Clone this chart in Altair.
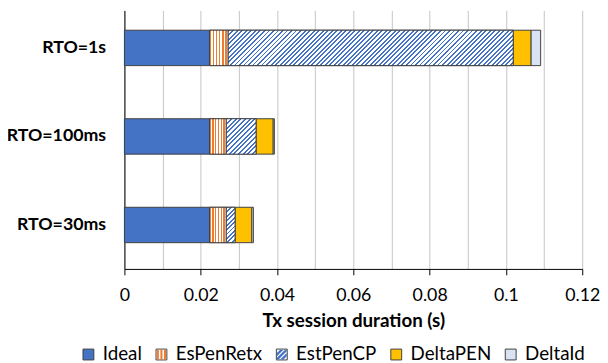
import altair as alt
import pandas as pd

# ---------------- data ----------------
categories = ["RTO=1s", "RTO=100ms", "RTO=30ms"]
series_names = ["Ideal", "EsPenRetx", "EstPenCP", "DeltaPEN", "DeltaId"]
ideal = [0.0223, 0.0223, 0.0223]
es_pen_retx = [0.0049, 0.0044, 0.0044]
est_pen_cp = [0.0747, 0.0078, 0.0023]
delta_pen = [0.0047, 0.0045, 0.0044]
delta_id = [0.0025, 0.0003, 0.0004]
x_ticks = [0, 0.01, 0.02, 0.03, 0.04, 0.05, 0.06, 0.07, 0.08, 0.09, 0.10, 0.11, 0.12]
x_max = 0.12

# ---------------- style ----------------
BLUE = "#4472C4"
ORANGE = "#ED7D31"
YELLOW = "#FFC000"
LIGHT = "#DAE3F3"
WHITE = "#FFFFFF"
EDGE = "#404040"
FONT = "Lato"
solid_colors = {"Ideal": BLUE, "EsPenRetx": WHITE, "EstPenCP": WHITE,
                "DeltaPEN": YELLOW, "DeltaId": LIGHT}
pattern_colors = {"Ideal": "transparent", "EsPenRetx": ORANGE, "EstPenCP": BLUE,
                  "DeltaPEN": "transparent", "DeltaId": "transparent"}
VSTRIPES = ("M-0.85,-0.9H-0.47V0.9H-0.85Z M-0.19,-0.9H0.19V0.9H-0.19Z "
            "M0.47,-0.9H0.85V0.9H0.47Z")
DSTRIPES = ("M-0.3,-0.9L0.3,-0.9L-0.9,0.3L-0.9,-0.3Z "
            "M0.6,-0.9L0.9,-0.9L0.9,-0.6L-0.6,0.9L-0.9,0.9L-0.9,0.6Z "
            "M0.9,-0.3L0.9,0.3L0.3,0.9L-0.3,0.9Z")
pattern_shapes = {"Ideal": "square", "EsPenRetx": VSTRIPES, "EstPenCP": DSTRIPES,
                  "DeltaPEN": "square", "DeltaId": "square"}
PFX = "~"  # prefix keeps the pattern legend separate from the colour legend

PLOT_W = 464
PLOT_H = 262
P_INNER = 0.6
P_OUTER = 0.26
ALIGN = 0.43
step = PLOT_H / (len(categories) - P_INNER + 2 * P_OUTER)
BAR_H = step * (1 - P_INNER)
PX_PER_UNIT = PLOT_W / x_max

# ---------------- table ----------------
series_values = [ideal, es_pen_retx, est_pen_cp, delta_pen, delta_id]
rows = []
for i, cat in enumerate(categories):
    start = 0.0
    for s, vals in zip(series_names, series_values):
        rows.append({"category": cat, "series": s, "series2": PFX + s, "value": vals[i],
                     "start": start, "end": start + vals[i]})
        start += vals[i]
df = pd.DataFrame(rows)


def stripe_stops(color, n, frac):
    stops = []
    for k in range(n):
        s = k / n
        m = (k + frac) / n
        e = (k + 1) / n
        stops += [{"offset": s, "color": color}, {"offset": m, "color": color},
                  {"offset": m, "color": WHITE}, {"offset": e, "color": WHITE}]
    return stops


def vertical_stripes(color, n, frac=0.5):
    return {"gradient": "linear", "x1": 0, "y1": 0, "x2": 1, "y2": 0,
            "stops": stripe_stops(color, n, frac)}


def diagonal_stripes(color, w, h, period=4.6, frac=0.42):
    r = h / w
    a = (1 + r) / (1 + r * r)
    b = r * a
    n = max(1, round((w + h) / period))
    return {"gradient": "linear", "x1": 0, "y1": 0, "x2": a, "y2": b,
            "stops": stripe_stops(color, n, frac)}


x_enc = alt.X(
    "start:Q",
    scale=alt.Scale(domain=[0, x_max], nice=False, zero=True),
    axis=alt.Axis(
        values=x_ticks, format="~g", title="Tx session duration (s)",
        labelExpr="round(datum.value*100) % 2 == 0 ? datum.label : ''",
        grid=True, gridColor="#C4C4C4", gridWidth=1,
        tickOpacity={"condition": {"test": "round(datum.value*100) % 2 == 0", "value": 1}, "value": 0},
        tickColor="#000000", tickSize=6, tickWidth=1,
        domainColor="#000000", domainWidth=1,
        labelFont=FONT, labelFontSize=18, labelColor="#000000", labelPadding=12,
        labelFlush=False, labelOverlap=False,
        titleFont=FONT, titleFontSize=19, titleFontWeight="bold", titleColor="#000000",
        titlePadding=7,
    ),
)
y_enc = alt.Y(
    "category:N", sort=categories,
    scale=alt.Scale(paddingInner=P_INNER, paddingOuter=P_OUTER, align=ALIGN),
    axis=alt.Axis(
        title=None, ticks=False, grid=False,
        domainColor="#000000", domainWidth=1,
        labelFont=FONT, labelFontSize=18, labelFontWeight="bold", labelColor="#000000",
        labelPadding=19,
    ),
)

LEG_X = -46
LEG_Y = 339
legend_common = dict(
    title=None, orient="none", direction="horizontal",
    legendX=LEG_X, legendY=LEG_Y, padding=0,
    symbolSize=121, symbolOpacity=1,
    labelFont=FONT, labelFontSize=19, labelColor="#000000",
    labelOffset=5, columnPadding=10,
)

base = alt.Chart(df).encode(x=x_enc, x2="end:Q", y=y_enc)

solid = base.mark_bar(stroke=EDGE, strokeWidth=1).encode(
    color=alt.Color(
        "series:N",
        scale=alt.Scale(domain=series_names, range=[solid_colors[s] for s in series_names]),
        legend=alt.Legend(symbolType="square", symbolStrokeColor=EDGE,
                          symbolStrokeWidth=1, **legend_common),
    )
)

layers = [solid]

retx_layer = base.mark_bar(
    stroke=EDGE, strokeWidth=1, fill=vertical_stripes(ORANGE, 6, 0.5)
).transform_filter(alt.datum.series == "EsPenRetx")
layers.append(retx_layer)

for i, cat in enumerate(categories):
    w = est_pen_cp[i] * PX_PER_UNIT
    cp_layer = base.mark_bar(
        stroke=EDGE, strokeWidth=1, fill=diagonal_stripes(BLUE, w, BAR_H)
    ).transform_filter(
        (alt.datum.series == "EstPenCP") & (alt.datum.category == cat)
    )
    layers.append(cp_layer)

# invisible layer whose legend draws the stripe patterns over the legend squares
pattern_domain = [PFX + s for s in series_names]
pattern_legend_def = dict(symbolStrokeWidth=0, labelOpacity=0,
                          labelExpr="slice(datum.label, 1)", **legend_common)
pattern_legend = alt.Chart(df).mark_point(filled=True, opacity=0).encode(
    x=x_enc, y=y_enc,
    fill=alt.Fill(
        "series2:N",
        scale=alt.Scale(domain=pattern_domain,
                        range=[pattern_colors[s] for s in series_names]),
        legend=alt.Legend(**pattern_legend_def),
    ),
    shape=alt.Shape(
        "series2:N",
        scale=alt.Scale(domain=pattern_domain,
                        range=[pattern_shapes[s] for s in series_names]),
        legend=alt.Legend(**pattern_legend_def),
    ),
)
layers.append(pattern_legend)

chart = alt.layer(*layers).properties(
    width=PLOT_W, height=PLOT_H,
    autosize=alt.AutoSizeParams(type="none"),
    padding={"left": 118, "top": 0, "right": 18, "bottom": 100},
).configure_view(stroke="transparent")

chart.save("out.html", embed_options={"renderer": "svg", "actions": False})
